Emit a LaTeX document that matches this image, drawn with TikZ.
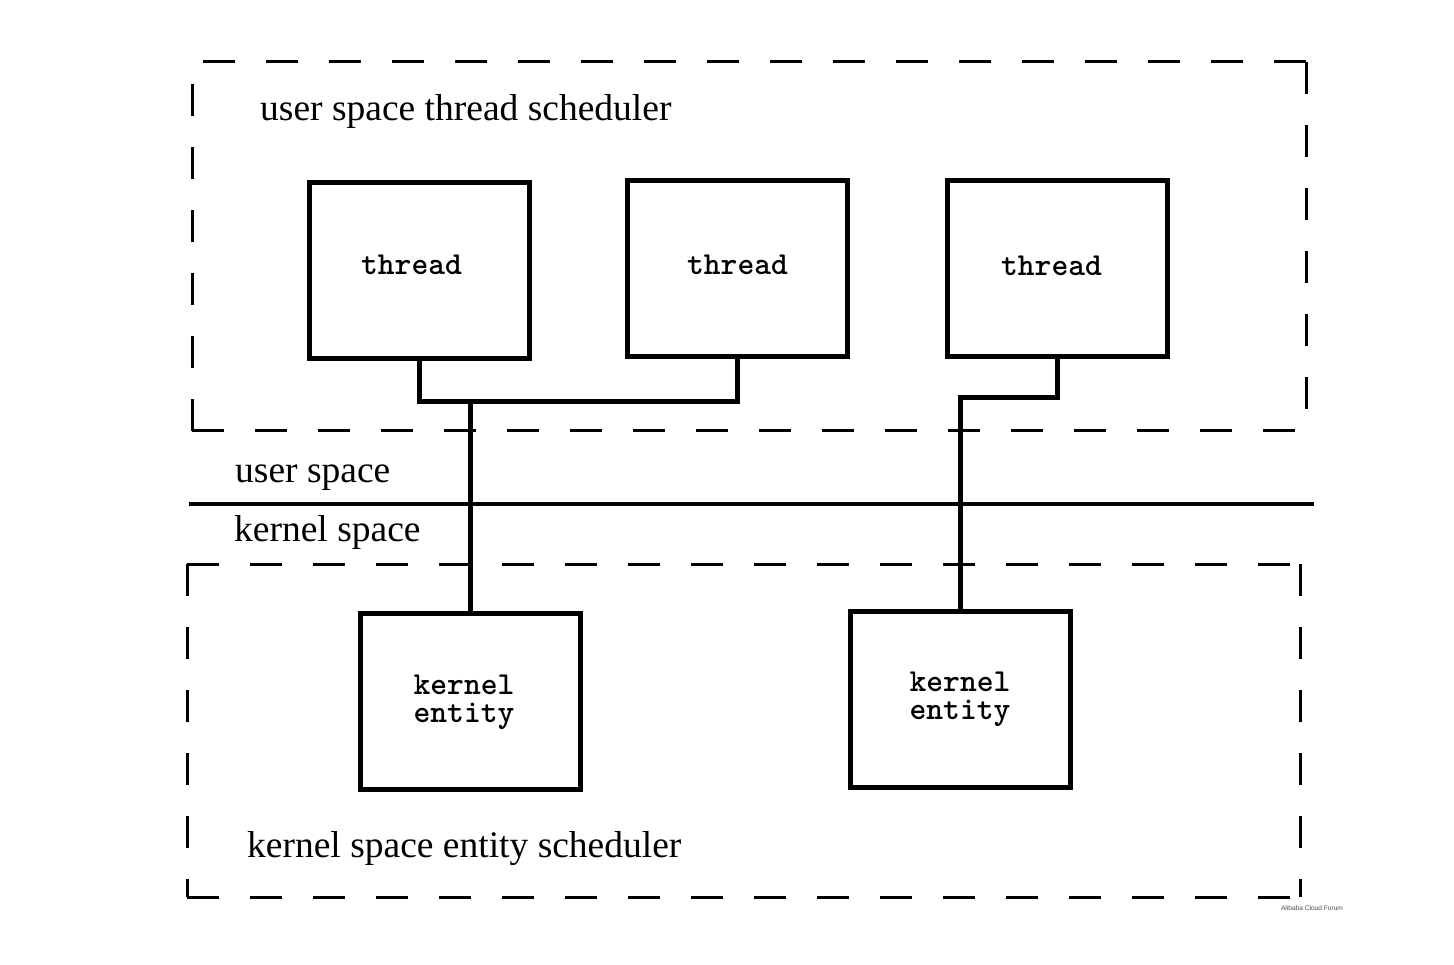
\documentclass[tikz,border=0pt]{standalone}
\usepackage{fontspec}
\setmainfont{Liberation Serif}
\newfontfamily\wmfont{Liberation Sans}
\begin{document}
\begin{tikzpicture}[x=1pt,y=-1pt,
  dashbox/.style={line width=3pt,dash pattern=on 32pt off 31pt},
  boxnode/.style={draw,line width=5pt,inner sep=0pt,minimum width=220pt,minimum height=176pt},
  boxtext/.style={font=\ttfamily\bfseries\fontsize{32}{28}\selectfont,align=center,inner sep=0pt},
  conn/.style={line width=5pt},
  lbl/.style={anchor=base west,inner sep=0pt,font=\fontsize{37.5}{40}\selectfont}]
\useasboundingbox (0,0) rectangle (1454,965);
% upper dashed box
\coordinate (ua) at (192,62);
\coordinate (ub) at (1306,62);
\coordinate (uc) at (1306,431);
\coordinate (ud) at (192,431);
\draw[dashbox] (ub) -- (ua);
\draw[dashbox] (ub) -- (uc);
\draw[dashbox] (ud) -- (ua);
\draw[dashbox] (ud) -- (uc);
% lower dashed box
\coordinate (la) at (187,564);
\coordinate (lb) at (1300,564);
\coordinate (lc) at (1300,897);
\coordinate (ld) at (187,897);
\draw[dashbox] (la) -- (lb);
\draw[dashbox] (la) -- (ld);
\draw[dashbox] (ld) -- (lc);
\draw[dashbox] (lb) -- (lc);
% divider
\coordinate (dl) at (189,504);
\coordinate (dr) at (1314,504);
\draw[line width=3.5pt] (dl) -- (dr);
% labels
\node[lbl] (l1) at (260,121) {user space thread scheduler};
\node[lbl] (l2) at (235,482) {user space};
\node[lbl] (l3) at (234,541) {kernel space};
\node[lbl] (l4) at (247,857) {kernel space entity scheduler};
% thread boxes
\node[boxnode,label={[boxtext,name=t1x,shift={(-7.5,-6.5)}]center:thread}] (t1) at (419,271) {};
\node[boxnode,label={[boxtext,name=t2x,shift={(0.5,-4.5)}]center:thread}] (t2) at (737,269) {};
\node[boxnode,label={[boxtext,name=t3x,shift={(-5.5,-3.5)}]center:thread}] (t3) at (1057,269) {};
% kernel entities
\node[boxnode,label={[boxtext,name=k1x,shift={(-6,1)}]center:kernel\\entity}] (k1) at (470,701) {};
\node[boxnode,label={[boxtext,name=k2x,shift={(0,0)}]center:kernel\\entity}] (k2) at (960,699.5) {};
% connectors
\coordinate (j1) at (470,402);
\coordinate (j2) at (960,398);
\draw[conn] (t1.south) |- (j1) -| (t2.south);
\draw[conn] (j1) -- (k1.north);
\draw[conn] (t3.south) |- (j2) -- (k2.north);
% watermark
\node[font=\wmfont\fontsize{6.6}{7}\selectfont,text=black!70,inner sep=0pt] (wm) at (1312,908) {Alibaba Cloud Forum};
\end{tikzpicture}
\end{document}
